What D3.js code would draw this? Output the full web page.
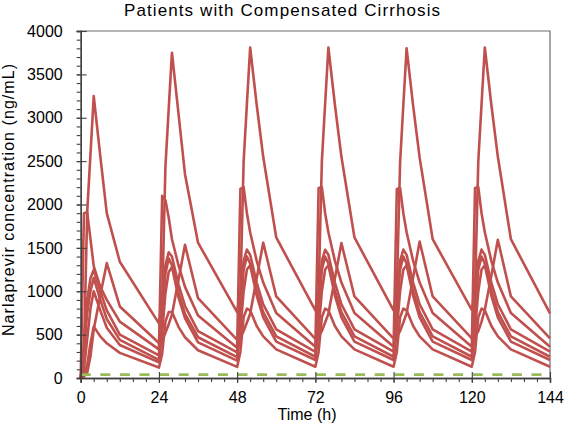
<!DOCTYPE html>
<html><head><meta charset="utf-8">
<script src="https://cdn.jsdelivr.net/npm/d3@7"></script>
<style>body{margin:0;background:#fff} text{font-family:Arial,"Liberation Sans",sans-serif;fill:#000}</style>
</head><body><svg id="c" width="566" height="427"></svg>
<script>
// ---- data ----
const doseTimes = [0, 24, 48, 72, 96, 120];
const sampleOffsets = [0, 1, 2, 3, 4, 6, 8, 12];
const endTime = 144;
const xTicks = [0, 24, 48, 72, 96, 120, 144];
const yTicks = [0, 500, 1000, 1500, 2000, 2500, 3000, 3500, 4000];
const lloqValue = 40;

// concentration (ng/mL) per dosing day at sampleOffsets
const subjectA = [
  [0, 300, 1920, 2580, 3250, 2560, 1900, 1340],
  [630, 900, 2440, 3100, 3750, 3050, 2350, 1560],
  [760, 1000, 2500, 3160, 3810, 3150, 2550, 1620],
  [780, 1000, 2500, 3160, 3810, 3150, 2550, 1620],
  [780, 1000, 2480, 3150, 3800, 3140, 2540, 1600],
  [784, 1000, 2500, 3160, 3810, 3150, 2550, 1600]
];
const subjectB = [
  [0, 1900, 1910, 1600, 1290, 1050, 900, 650],
  [330, 2100, 2050, 1850, 1600, 1300, 1050, 720],
  [350, 2180, 2200, 1900, 1680, 1350, 1100, 750],
  [360, 2190, 2200, 1900, 1680, 1350, 1100, 750],
  [360, 2180, 2190, 1900, 1680, 1350, 1100, 750],
  [361, 2190, 2200, 1900, 1680, 1350, 1100, 750]
];
const subjectC = [
  [0, 20, 60, 250, 560, 950, 1324, 825],
  [403, 440, 520, 620, 729, 1130, 1535, 920],
  [440, 470, 540, 640, 740, 1150, 1560, 940],
  [450, 480, 540, 640, 740, 1150, 1555, 940],
  [455, 480, 540, 640, 745, 1160, 1573, 940],
  [457, 480, 540, 650, 787, 1180, 1593, 940]
];
const subjectD = [
  [0, 30, 150, 400, 594, 480, 400, 290],
  [120, 280, 650, 760, 760, 590, 470, 320],
  [128, 300, 700, 800, 780, 600, 480, 330],
  [130, 300, 700, 800, 780, 600, 480, 330],
  [130, 300, 700, 800, 780, 600, 480, 330],
  [130, 300, 700, 800, 780, 600, 480, 330]
];
const subjectE = [
  [0, 400, 900, 1150, 1247, 1000, 780, 500],
  [260, 850, 1300, 1450, 1400, 1080, 830, 540],
  [295, 900, 1350, 1480, 1420, 1100, 850, 560],
  [300, 900, 1350, 1478, 1420, 1100, 850, 560],
  [303, 900, 1350, 1480, 1420, 1100, 850, 560],
  [303, 900, 1350, 1480, 1420, 1100, 850, 560]
];
const subjectF = [
  [0, 300, 750, 1000, 1155, 900, 680, 440],
  [210, 720, 1200, 1380, 1300, 980, 740, 470],
  [240, 750, 1250, 1400, 1320, 1000, 760, 480],
  [245, 750, 1250, 1400, 1320, 1000, 760, 480],
  [245, 750, 1250, 1400, 1320, 1000, 760, 480],
  [245, 750, 1250, 1400, 1320, 1000, 760, 480]
];
const subjectG = [
  [0, 100, 450, 800, 1000, 780, 580, 380],
  [180, 520, 980, 1220, 1280, 930, 690, 410],
  [200, 550, 1000, 1250, 1300, 950, 700, 420],
  [207, 550, 1000, 1250, 1300, 950, 700, 420],
  [207, 550, 1000, 1250, 1300, 950, 700, 420],
  [207, 550, 1000, 1250, 1300, 950, 700, 420]
];
const subjects = [subjectA, subjectB, subjectC, subjectD, subjectE, subjectF, subjectG];
const valuesAt144 = [745, 361, 457, 130, 303, 245, 207];

// ---- chart ----
const svg = d3.select("#c");
const x = d3.scaleLinear().domain([0, 144]).range([80.7, 550]);
const y = d3.scaleLinear().domain([0, 4000]).range([378, 31]);
const axisCol = "#404040";

// frame top & right
svg.append("path")
  .attr("d", `M${x(0)},${y(4000)}H${x(144)}V${y(0)}`)
  .attr("fill", "none").attr("stroke", "#6e6e6e").attr("stroke-width", 1.2);

// series
const line = d3.line().x(d => x(d.t)).y(d => y(d.c));
subjects.forEach((days, i) => {
  const pts = [];
  days.forEach((vals, d) => {
    vals.forEach((v, k) => pts.push({t: doseTimes[d] + sampleOffsets[k], c: v}));
  });
  pts.push({t: endTime, c: valuesAt144[i]});
  svg.append("path").datum(pts).attr("d", line)
    .attr("fill", "none").attr("stroke", "#c0504d")
    .attr("stroke-width", 2.6).attr("stroke-linejoin", "round");
});

// LLOQ dashed green line
svg.append("path").datum([{t: 0, c: lloqValue}, {t: 144, c: lloqValue}]).attr("d", line)
  .attr("fill", "none").attr("stroke", "#9bbb59").attr("stroke-width", 2.8)
  .attr("stroke-dasharray", "10,9.6");

// axes
function styleAxis(g) {
  g.select(".domain").attr("stroke", axisCol).attr("stroke-width", 1.3);
  g.selectAll(".tick line").attr("stroke", axisCol).attr("stroke-width", 1.1);
  g.selectAll("text").attr("font-size", 16).attr("fill", "#000")
    .attr("font-family", "Arial, 'Liberation Sans', sans-serif");
}
const xMinor = d3.range(0, 145, 4);
const yMinor = d3.range(0, 4001, 100);

// x minor
svg.append("g").attr("transform", `translate(0,${y(0)})`)
  .call(d3.axisBottom(x).tickValues(xMinor).tickSize(4).tickFormat(""))
  .call(styleAxis);
// x major (inner part)
svg.append("g").attr("transform", `translate(0,${y(0)})`)
  .call(d3.axisBottom(x).tickValues(xTicks).tickSize(-6).tickFormat(""))
  .call(styleAxis).call(g => g.select(".domain").remove());
// x major
svg.append("g").attr("transform", `translate(0,${y(0)})`)
  .call(d3.axisBottom(x).tickValues(xTicks).tickSize(5).tickPadding(9).tickFormat(d3.format("d")))
  .call(styleAxis);

// y minor
svg.append("g").attr("transform", `translate(${x(0)},0)`)
  .call(d3.axisLeft(y).tickValues(yMinor).tickSize(4).tickFormat(""))
  .call(styleAxis);
// y major inner
svg.append("g").attr("transform", `translate(${x(0)},0)`)
  .call(d3.axisLeft(y).tickValues(yTicks).tickSize(-6).tickFormat(""))
  .call(styleAxis).call(g => g.select(".domain").remove());
// y major
svg.append("g").attr("transform", `translate(${x(0)},0)`)
  .call(d3.axisLeft(y).tickValues(yTicks).tickSize(4).tickPadding(14).tickFormat(d3.format("d")))
  .call(styleAxis);

// titles
svg.append("text").attr("x", 282).attr("y", 16).attr("text-anchor", "middle")
  .attr("font-size", 17).attr("textLength", 316).attr("lengthAdjust", "spacing")
  .text("Patients with Compensated Cirrhosis");
svg.append("text").attr("x", 307).attr("y", 420).attr("text-anchor", "middle")
  .attr("font-size", 16).text("Time (h)");
svg.append("text").attr("transform", "translate(14,200) rotate(-90)")
  .attr("text-anchor", "middle").attr("font-size", 16)
  .attr("textLength", 272).attr("lengthAdjust", "spacing")
  .text("Narlaprevir concentration (ng/mL)");
</script></body></html>
